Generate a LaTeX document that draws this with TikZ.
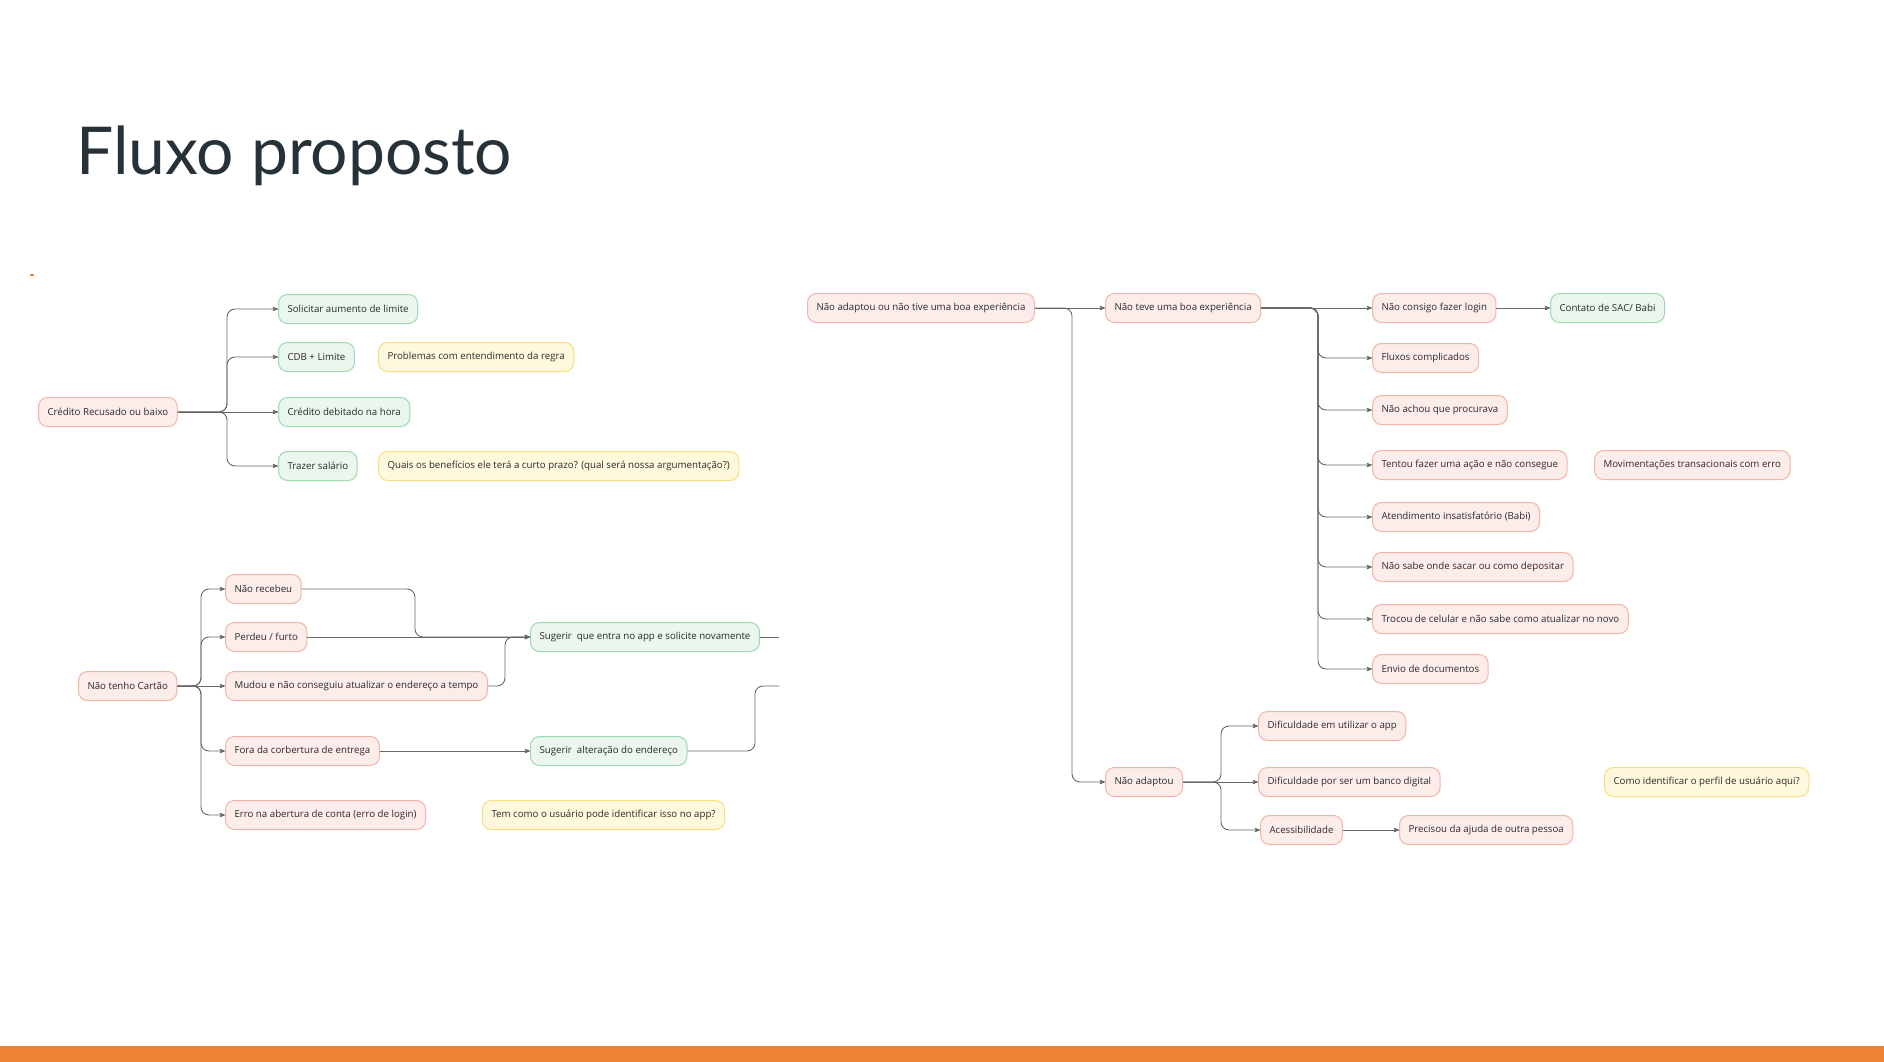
\documentclass[tikz,border=0pt]{standalone}
\usepackage{fontspec}
\setmainfont{Lato}
\newfontfamily\boxfont{Open Sans}
\usetikzlibrary{positioning,arrows}

\definecolor{redfill}{HTML}{FCEDEA}
\definecolor{reddraw}{HTML}{F0B4A8}
\definecolor{greenfill}{HTML}{EAF6EE}
\definecolor{greendraw}{HTML}{9ED9B0}
\definecolor{yellowfill}{HTML}{FFF8DC}
\definecolor{yellowdraw}{HTML}{F8DE80}
\definecolor{linegray}{HTML}{666666}
\definecolor{textgray}{HTML}{2B2B2B}
\definecolor{titlegray}{HTML}{263238}
\definecolor{barorange}{HTML}{ED8232}

\tikzset{
  box/.style={rounded corners=9pt,minimum height=29pt,inner xsep=9pt,inner ysep=0pt,
    line width=1pt,anchor=west,font=\boxfont\fontsize{9.7}{11}\selectfont,text=textgray},
  problem/.style={box,fill=redfill,draw=reddraw},
  action/.style={box,fill=greenfill,draw=greendraw},
  question/.style={box,fill=yellowfill,draw=yellowdraw},
  link/.style={->,>=stealth',draw=linegray,line width=0.9pt,rounded corners=8pt}
}

\begin{document}
\begin{tikzpicture}[x=1pt,y=-1pt]
   \fill[white] (0,0) rectangle (1884,1062);
   \useasboundingbox (0,0) rectangle (1884,1062);
   \fill[barorange] (0,1046) rectangle (1884,1062);
   \fill[barorange] (30,274) rectangle (34,276);
   \node[anchor=base west,inner sep=0pt,text=titlegray,font=\fontsize{66}{74}\selectfont] (title) at (76,174) {Fluxo proposto};

   % credito
   \node[problem]  (cred)    at (38,412)  {Crédito Recusado ou baixo};
   \node[action]   (solic)   at (278,309) {Solicitar aumento de limite};
   \node[action]   (cdb)     at (278,357) {CDB + Limite};
   \node[question] (regra)   at (378,357) {Problemas com entendimento da regra};
   \node[action]   (debit)   at (278,412) {Crédito debitado na hora};
   \node[action]   (salario) at (278,466) {Trazer salário};
   \node[question] (benef)   at (378,466) {Quais os benefícios ele terá a curto prazo? (qual será nossa argumentação?)};
   \coordinate (credfork) at (227,412);

   \draw[link] (cred.east) -| (credfork |- solic.west) -- (solic.west);
   \draw[link] (cred.east) -| (credfork |- cdb.west) -- (cdb.west);
   \draw[link] (cred.east) -- (debit.west);
   \draw[link] (cred.east) -| (credfork |- salario.west) -- (salario.west);

   % cartao
   \node[problem]  (cartao)  at (78,686)  {Não tenho Cartão};
   \node[problem]  (receb)   at (225,589) {Não recebeu};
   \node[problem]  (perdeu)  at (225,637) {Perdeu / furto};
   \node[problem]  (mudou)   at (225,686) {Mudou e não conseguiu atualizar o endereço a tempo};
   \node[problem]  (fora)    at (225,751) {Fora da corbertura de entrega};
   \node[problem]  (erro)    at (225,815) {Erro na abertura de conta (erro de login)};
   \node[action]   (novam)   at (530,637) {Sugerir~ que entra no app e solicite novamente};
   \node[action]   (ender)   at (530,751) {Sugerir~ alteração do endereço};
   \node[question] (identif) at (482,815) {Tem como o usuário pode identificar isso no app?};
   \coordinate (cartfork) at (201,686);
   \coordinate (recebturn) at (415,589);
   \coordinate (mudouturn) at (505,686);
   \coordinate (enderturn) at (755,751);
   \coordinate (novamout) at (779,637);
   \coordinate (enderout) at (779,686);

   \draw[link] (cartao.east) -| (cartfork |- receb.west) -- (receb.west);
   \draw[link] (cartao.east) -| (cartfork |- perdeu.west) -- (perdeu.west);
   \draw[link] (cartao.east) -- (mudou.west);
   \draw[link] (cartao.east) -| (cartfork |- fora.west) -- (fora.west);
   \draw[link] (cartao.east) -| (cartfork |- erro.west) -- (erro.west);
   \draw[link] (receb.east) -| (recebturn |- novam.west) -- (novam.west);
   \draw[link] (perdeu.east) -- (novam.west);
   \draw[link] (mudou.east) -| (mudouturn |- novam.west) -- (novam.west);
   \draw[link] (fora.east) -- (ender.west);
   \draw[draw=linegray,line width=0.9pt] (novam.east) -- (novamout);
   \draw[draw=linegray,line width=0.9pt,rounded corners=8pt] (ender.east) -| (enderturn |- enderout) -- (enderout);

   % experiencia
   \node[problem]  (adapt0)   at (807,308)  {Não adaptou ou não tive uma boa experiência};
   \node[problem]  (teve)     at (1105,308) {Não teve uma boa experiência};
   \node[problem]  (naoadapt) at (1105,782) {Não adaptou};
   \coordinate (adaptfork) at (1072,308);

   \draw[link] (adapt0.east) -- (teve.west);
   \draw[link] (adapt0.east) -| (adaptfork |- naoadapt.west) -- (naoadapt.west);

   \node[problem]  (login)   at (1372,308) {Não consigo fazer login};
   \node[action]   (sac)     at (1550,308) {Contato de SAC/ Babi};
   \node[problem]  (fluxos)  at (1372,358) {Fluxos complicados};
   \node[problem]  (achou)   at (1372,410) {Não achou que procurava};
   \node[problem]  (tentou)  at (1372,465) {Tentou fazer uma ação e não consegue};
   \node[problem]  (movim)   at (1594,465) {Movimentações transacionais com erro};
   \node[problem]  (atend)   at (1372,517) {Atendimento insatisfatório (Babi)};
   \node[problem]  (sacar)   at (1372,567) {Não sabe onde sacar ou como depositar};
   \node[problem]  (celular) at (1372,619) {Trocou de celular e não sabe como atualizar no novo};
   \node[problem]  (docs)    at (1372,669) {Envio de documentos};
   \coordinate (tevefork) at (1318,308);

   \draw[link] (teve.east) -- (login.west);
   \draw[link] (login.east) -- (sac.west);
   \draw[link] (teve.east) -| (tevefork |- fluxos.west) -- (fluxos.west);
   \draw[link] (teve.east) -| (tevefork |- achou.west) -- (achou.west);
   \draw[link] (teve.east) -| (tevefork |- tentou.west) -- (tentou.west);
   \draw[link] (teve.east) -| (tevefork |- atend.west) -- (atend.west);
   \draw[link] (teve.east) -| (tevefork |- sacar.west) -- (sacar.west);
   \draw[link] (teve.east) -| (tevefork |- celular.west) -- (celular.west);
   \draw[link] (teve.east) -| (tevefork |- docs.west) -- (docs.west);

   \node[problem]  (utilizar) at (1258,726) {Dificuldade em utilizar o app};
   \node[problem]  (digital)  at (1258,782) {Dificuldade por ser um banco digital};
   \node[problem]  (acess)    at (1260,830) {Acessibilidade};
   \node[problem]  (ajuda)    at (1399,830) {Precisou da ajuda de outra pessoa};
   \node[question] (perfil)   at (1604,782) {Como identificar o perfil de usuário aqui?};
   \coordinate (adaptfork2) at (1221,782);

   \draw[link] (naoadapt.east) -| (adaptfork2 |- utilizar.west) -- (utilizar.west);
   \draw[link] (naoadapt.east) -- (digital.west);
   \draw[link] (naoadapt.east) -| (adaptfork2 |- acess.west) -- (acess.west);
   \draw[link] (acess.east) -- (ajuda.west);
\end{tikzpicture}
\end{document}
